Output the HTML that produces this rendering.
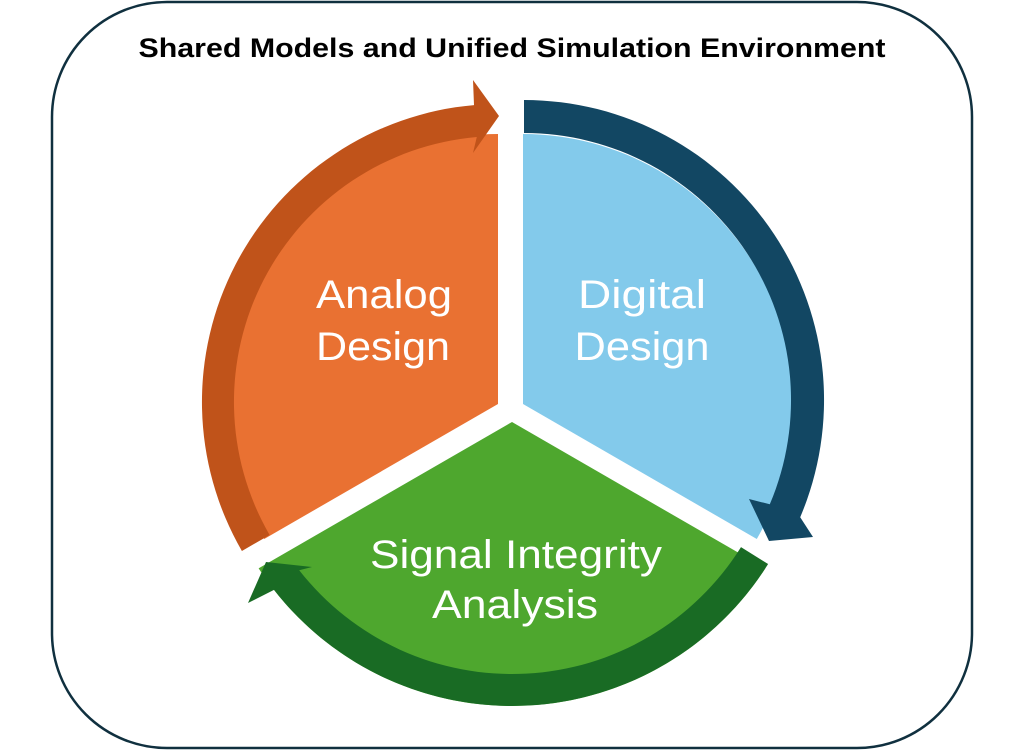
<!DOCTYPE html>
<html><head><meta charset="utf-8"><style>
html,body{margin:0;padding:0;background:#fff;}
svg{display:block;}
</style></head><body>
<svg width="1024" height="751" viewBox="0 0 1024 751" xmlns="http://www.w3.org/2000/svg">
<defs>
<clipPath id="gc"><circle cx="512" cy="404" r="302"/></clipPath>
</defs>
<rect x="52" y="2" width="920" height="746" rx="115" ry="115" fill="#fff" stroke="#10303f" stroke-width="2.5"/>
<text x="512" y="57" text-anchor="middle" font-family="Liberation Sans, sans-serif" font-weight="bold" font-size="27" fill="#000" textLength="747" lengthAdjust="spacingAndGlyphs">Shared Models and Unified Simulation Environment</text>

<path d="M498,404 L264.2,539 A270,270 0 0 1 498,134 Z" fill="#E97132"/>
<path d="M523,404 L523,134 A270,270 0 0 1 756.8,539 Z" fill="#83CAEB"/>
<path d="M512,422 L789.1,582 A320,320 0 0 1 234.9,582 Z" fill="#4EA72E" clip-path="url(#gc)"/>

<path d="M241.9,551 A298,298 0 0 1 474,105.1 L473,80 L499,116 L473,153 L476.8,137 A266,266 0 0 0 269.6,535 Z" fill="#C0531A"/>
<path d="M524,100 A300,300 0 0 1 800.2,517.2 L813,537 L769,541 L749,499 L769.8,504.3 A267,267 0 0 0 524,133 Z" fill="#124763"/>
<path d="M768.1,564 A302,302 0 0 1 274,589.9 L248,603 L266,562 L312,567 L299.2,570.2 A270,270 0 0 0 741,547.1 Z" fill="#196B24"/>

<g font-family="Liberation Sans, sans-serif" font-size="40" fill="#fff" text-anchor="middle">
<text x="384" y="308" textLength="136" lengthAdjust="spacingAndGlyphs">Analog</text>
<text x="383" y="360" textLength="134" lengthAdjust="spacingAndGlyphs">Design</text>
<text x="642" y="308" textLength="128" lengthAdjust="spacingAndGlyphs">Digital</text>
<text x="642" y="360" textLength="135" lengthAdjust="spacingAndGlyphs">Design</text>
<text x="516" y="568" textLength="292" lengthAdjust="spacingAndGlyphs">Signal Integrity</text>
<text x="515" y="618" textLength="166" lengthAdjust="spacingAndGlyphs">Analysis</text>
</g>
</svg>
</body></html>
